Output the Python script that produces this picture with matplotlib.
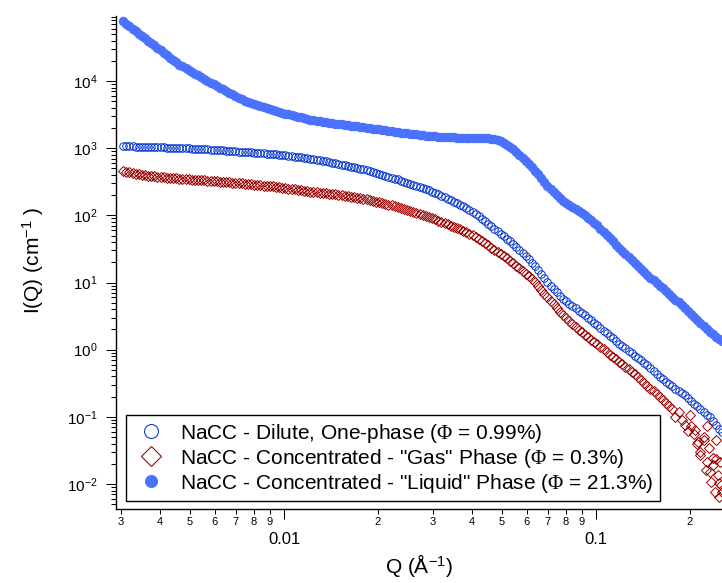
import matplotlib
matplotlib.use("Agg")
import matplotlib.pyplot as plt
from matplotlib.lines import Line2D
from matplotlib.ticker import FixedLocator, FixedFormatter, LogFormatterMathtext, NullFormatter

# ---------------------------------------------------------------- data
q = [0.003050, 0.003121, 0.003194, 0.003268, 0.003344, 0.003422, 0.003502, 0.003584, 0.003667, 0.003752,
     0.003840, 0.003929, 0.004021, 0.004115, 0.004210, 0.004308, 0.004409, 0.004512, 0.004616, 0.004724,
     0.004834, 0.004947, 0.005062, 0.005180, 0.005300, 0.005423, 0.005550, 0.005679, 0.005812, 0.005947,
     0.006085, 0.006227, 0.006372, 0.006520, 0.006673, 0.006828, 0.006987, 0.007150, 0.007316, 0.007486,
     0.007661, 0.007839, 0.008022, 0.008209, 0.008400, 0.008596, 0.008796, 0.009001, 0.009211, 0.009426,
     0.009645, 0.009870, 0.01010, 0.01033, 0.01058, 0.01082, 0.01107, 0.01133, 0.01160, 0.01187,
     0.01214, 0.01242, 0.01271, 0.01301, 0.01331, 0.01362, 0.01394, 0.01426, 0.01460, 0.01494,
     0.01529, 0.01564, 0.01601, 0.01638, 0.01676, 0.01715, 0.01755, 0.01796, 0.01838, 0.01881,
     0.01924, 0.01969, 0.02015, 0.02062, 0.02110, 0.02159, 0.02210, 0.02261, 0.02314, 0.02368,
     0.02423, 0.02479, 0.02537, 0.02596, 0.02656, 0.02718, 0.02782, 0.02847, 0.02913, 0.02981,
     0.03050, 0.03121, 0.03194, 0.03268, 0.03344, 0.03422, 0.03502, 0.03584, 0.03667, 0.03752,
     0.03840, 0.03929, 0.04021, 0.04115, 0.04210, 0.04308, 0.04409, 0.04512, 0.04616, 0.04724,
     0.04834, 0.04947, 0.05062, 0.05180, 0.05300, 0.05423, 0.05550, 0.05679, 0.05812, 0.05947,
     0.06086, 0.06227, 0.06372, 0.06520, 0.06673, 0.06828, 0.06987, 0.07150, 0.07316, 0.07486,
     0.07661, 0.07839, 0.08022, 0.08209, 0.08400, 0.08596, 0.08796, 0.09001, 0.09211, 0.09426,
     0.09645, 0.09870, 0.1010, 0.1033, 0.1058, 0.1082, 0.1107, 0.1133, 0.1160, 0.1187,
     0.1214, 0.1242, 0.1271, 0.1301, 0.1331, 0.1362, 0.1394, 0.1426, 0.1460, 0.1494,
     0.1529, 0.1564, 0.1601, 0.1638, 0.1676, 0.1715, 0.1755, 0.1796, 0.1838, 0.1881,
     0.1924, 0.1969, 0.2015, 0.2062, 0.2110, 0.2159, 0.2210, 0.2261, 0.2314, 0.2368,
     0.2423, 0.2479, 0.2537]

i_dilute = [1071, 1067, 1064, 1060, 1056, 1052, 1049, 1045, 1042, 1038,
            1035, 1031, 1028, 1024, 1021, 1017, 1014, 1010, 1007, 1002,
            997, 991, 986, 981, 976, 971, 966, 961, 956, 948,
            940, 933, 927, 919, 912, 905, 899, 891, 884, 876,
            869, 863, 857, 850, 843, 835, 828, 821, 814, 806,
            798, 788, 779, 769, 760, 750, 740, 730, 720, 710,
            700, 688, 677, 663, 650, 636, 623, 609, 596, 582,
            568, 555, 543, 530, 518, 506, 495, 483, 472, 458,
            444, 430, 416, 403, 390, 377, 365, 353, 342, 330,
            318, 306, 295, 284, 274, 264, 254, 244, 235, 225,
            216, 205, 195, 185, 176, 167, 159, 151, 143, 136,
            129, 121, 113.5, 105, 97.3, 89.3, 82.0, 75.3, 69.1, 63.4,
            58.2, 53.4, 49.0, 45.0, 41.3, 37.6, 34.2, 30.8, 27.8, 25.0,
            22.5, 19.8, 17.5, 15.3, 13.3, 11.6, 10.07, 8.96, 7.98, 7.12,
            6.36, 5.77, 5.23, 4.84, 4.47, 4.13, 3.82, 3.52, 3.24, 2.98,
            2.74, 2.52, 2.31, 2.11, 1.93, 1.77, 1.62, 1.47, 1.34, 1.23,
            1.135, 1.044, 0.960, 0.882, 0.811, 0.749, 0.691, 0.636, 0.586, 0.530,
            0.480, 0.435, 0.394, 0.363, 0.335, 0.309, 0.285, 0.263, 0.243, 0.225,
            0.209, 0.190, 0.172, 0.157, 0.143, 0.130, 0.1187, 0.108, 0.0983, 0.0862,
            0.0755, 0.067, 0.0594]

i_gas = [455, 445, 436, 426, 417, 409, 401, 395, 390, 386,
         382, 378, 374, 370, 366, 362, 359, 355, 352, 349,
         347, 344, 341, 338, 336, 333, 331, 328, 326, 323,
         321, 318, 315, 312, 310, 307, 305, 302, 299, 296,
         293, 290, 287, 284, 281, 278, 275, 272, 269, 266,
         263, 259, 255, 251, 247, 243, 240, 235, 231, 227,
         224, 221, 219, 216, 214, 212, 210, 207, 205, 201,
         198, 194, 191, 188, 185, 182, 179, 176, 173, 168,
         164, 160, 156, 152, 148, 144, 141, 137, 134, 130,
         126, 121, 117, 113, 108.6, 104.7, 101.0, 97.6, 94.3, 90.8,
         87.5, 83.8, 80.3, 76.8, 73.5, 70.4, 67.4, 64.6, 61.9, 59.3,
         56.8, 53.6, 50.6, 47.3, 44.2, 41.1, 38.2, 35.6, 33.1, 30.8,
         28.7, 26.6, 24.7, 22.8, 21.0, 19.3, 17.7, 16.2, 14.9, 13.6,
         12.5, 11.2, 10.03, 8.85, 7.81, 6.86, 6.03, 5.34, 4.72, 4.18,
         3.70, 3.31, 2.96, 2.68, 2.42, 2.19, 1.98, 1.82, 1.666, 1.537,
         1.418, 1.306, 1.203, 1.104, 1.014, 0.927, 0.848, 0.780, 0.717, 0.660,
         0.608, 0.561, 0.518, 0.471, 0.429, 0.390, 0.354, 0.321, 0.291, 0.264,
         0.240, 0.219, 0.199, 0.180, 0.1627, 0.145, 0.130, 0.098, 0.118, 0.090,
         0.075, 0.062, 0.072, 0.055, 0.040, 0.030, 0.046, 0.021, 0.015, 0.019,
         0.024, 0.0105, 0.0075]

# noisy high-Q points of the gas phase
q_gas_tail = [0.2000, 0.2076, 0.2123, 0.2154, 0.2219, 0.2252, 0.2270, 0.2302,
              0.2336, 0.2371, 0.2406, 0.2424, 0.2460, 0.2479, 0.2497, 0.2515]
i_gas_tail = [0.106, 0.0636, 0.0422, 0.0270, 0.0500, 0.01615, 0.0730, 0.0343,
              0.01071, 0.0244, 0.0076, 0.0452, 0.0136, 0.0064, 0.0213, 0.00966]

i_liquid = [77600, 71200, 65400, 60000, 55100, 50600, 46400, 43000, 39800, 36700,
            33800, 31000, 28500, 26200, 24100, 22200, 20500, 19000, 17600, 16550,
            15560, 14630, 13750, 12930, 12160, 11430, 10750, 10100, 9500, 8980,
            8480, 8000, 7550, 7130, 6740, 6360, 6000, 5640, 5310, 5100,
            4900, 4730, 4560, 4400, 4250, 4100, 3950, 3800, 3660, 3540,
            3430, 3340, 3260, 3180, 3100, 3020, 2940, 2870, 2800, 2730,
            2660, 2610, 2570, 2520, 2480, 2440, 2400, 2360, 2330, 2300,
            2270, 2230, 2200, 2170, 2140, 2110, 2080, 2050, 2030, 1990,
            1960, 1930, 1900, 1870, 1840, 1810, 1780, 1750, 1725, 1700,
            1670, 1655, 1640, 1620, 1600, 1580, 1560, 1545, 1530, 1515,
            1500, 1490, 1480, 1470, 1460, 1455, 1450, 1440, 1430, 1420,
            1410, 1420, 1430, 1435, 1440, 1435, 1430, 1410, 1385, 1350,
            1315, 1260, 1195, 1115, 1035, 960, 887, 800, 722, 652,
            588, 522, 463, 407, 358, 315, 277, 249, 224, 201,
            180, 165, 152, 142, 133, 125, 117, 109, 101, 92.1,
            84.0, 77.1, 70.7, 63.6, 57.2, 51.2, 45.8, 40.9, 36.6, 33.0,
            29.8, 26.9, 24.3, 21.8, 19.6, 17.7, 15.9, 14.4, 12.97, 11.86,
            10.85, 9.88, 8.99, 8.16, 7.40, 6.75, 6.15, 5.58, 5.07, 4.61,
            4.19, 3.78, 3.41, 3.07, 2.76, 2.50, 2.26, 2.04, 1.85, 1.69,
            1.54, 1.45, 1.37]

labels = ['NaCC - Dilute, One-phase ($\\mathrm{\\Phi}$ = 0.99%)',
          'NaCC - Concentrated - "Gas" Phase ($\\mathrm{\\Phi}$ = 0.3%)',
          'NaCC - Concentrated - "Liquid" Phase ($\\mathrm{\\Phi}$ = 21.3%)']

x_major_ticks = [0.01, 0.1]
x_major_labels = ['0.01', '0.1']
x_minor_ticks = [0.003, 0.004, 0.005, 0.006, 0.007, 0.008, 0.009,
                 0.02, 0.03, 0.04, 0.05, 0.06, 0.07, 0.08, 0.09, 0.2]
x_minor_labels = ['3', '4', '5', '6', '7', '8', '9',
                  '2', '3', '4', '5', '6', '7', '8', '9', '2']
y_major_ticks = [1e-2, 1e-1, 1e0, 1e1, 1e2, 1e3, 1e4]
y_minor_ticks = [m * 10.0 ** e for e in range(-3, 5) for m in range(2, 10)]

# ---------------------------------------------------------------- style
plt.rcParams['font.family'] = ['Liberation Sans', 'DejaVu Sans']
plt.rcParams['mathtext.fontset'] = 'custom'
plt.rcParams['mathtext.rm'] = 'Liberation Serif'
plt.rcParams['mathtext.it'] = 'Liberation Serif:italic'
plt.rcParams['mathtext.bf'] = 'Liberation Serif:bold'

C_DILUTE = '#0033cc'
C_GAS = '#990000'
C_LIQUID = '#4a72ff'

fig = plt.figure(figsize=(7.22, 5.83), dpi=100)
ax = fig.add_axes([116 / 722, 74 / 583, 606 / 722, 493 / 583])
ax.set_xscale('log')
ax.set_yscale('log')

ax.plot(q, i_dilute, ls='none', marker='o', ms=5.4, mfc='none',
        mec=C_DILUTE, mew=0.7)
ax.plot(q, i_gas, ls='none', marker='D', ms=4.6, mfc='none',
        mec=C_GAS, mew=0.7)
ax.plot(q_gas_tail, i_gas_tail, ls='none', marker='D', ms=4.6, mfc='none',
        mec=C_GAS, mew=0.7)
ax.plot(q, i_liquid, ls='none', marker='o', ms=6.8, mfc=C_LIQUID,
        mec=C_LIQUID, mew=0)

ax.set_xlim(0.002893, 0.2533)
ax.set_ylim(0.00425, 9.29e4)

for side in ('top', 'right'):
    ax.spines[side].set_visible(False)
for side in ('left', 'bottom'):
    ax.spines[side].set_linewidth(1.0)

ax.xaxis.set_major_locator(FixedLocator(x_major_ticks))
ax.xaxis.set_major_formatter(FixedFormatter(x_major_labels))
ax.xaxis.set_minor_locator(FixedLocator(x_minor_ticks))
ax.xaxis.set_minor_formatter(FixedFormatter(x_minor_labels))
ax.yaxis.set_major_locator(FixedLocator(y_major_ticks))
ax.yaxis.set_major_formatter(LogFormatterMathtext())
ax.yaxis.set_minor_locator(FixedLocator(y_minor_ticks))
ax.yaxis.set_minor_formatter(NullFormatter())

ax.tick_params(axis='x', which='major', direction='out', length=7.2,
               width=0.75, pad=9, labelsize=12, colors='black')
ax.tick_params(axis='x', which='minor', direction='out', length=3.6,
               width=0.75, pad=2.5, labelsize=8, colors='black')
ax.tick_params(axis='y', which='major', direction='out', length=7.2,
               width=0.75, pad=6, labelsize=11, colors='black')
ax.tick_params(axis='y', which='minor', direction='out', length=3.6,
               width=0.75, colors='black')

ax.set_xlabel('Q (Å$^{\\mathdefault{-1}}$)', fontsize=15)
ax.set_ylabel('I(Q) (cm$^{\\mathdefault{-1}}$ )', fontsize=15)
ax.xaxis.set_label_coords(0.5, -0.088)
ax.yaxis.set_label_coords(-0.115, 0.505)

handles = [
    Line2D([], [], ls='none', marker='o', ms=10, mfc='none', mec=C_DILUTE, mew=0.75),
    Line2D([], [], ls='none', marker='D', ms=9.7, mfc='none', mec=C_GAS, mew=0.75),
    Line2D([], [], ls='none', marker='o', ms=9.4, mfc=C_LIQUID, mec=C_LIQUID, mew=0),
]
leg = ax.legend(handles, labels, loc='lower left', bbox_to_anchor=(0.0165, 0.0162),
                borderaxespad=0, fontsize=15, frameon=True, fancybox=False,
                edgecolor='black', framealpha=1, labelspacing=0.1,
                handlelength=1.8, handletextpad=0.5, borderpad=0.3)
leg.get_frame().set_linewidth(1.0)

fig.savefig('out.png', dpi=100)
